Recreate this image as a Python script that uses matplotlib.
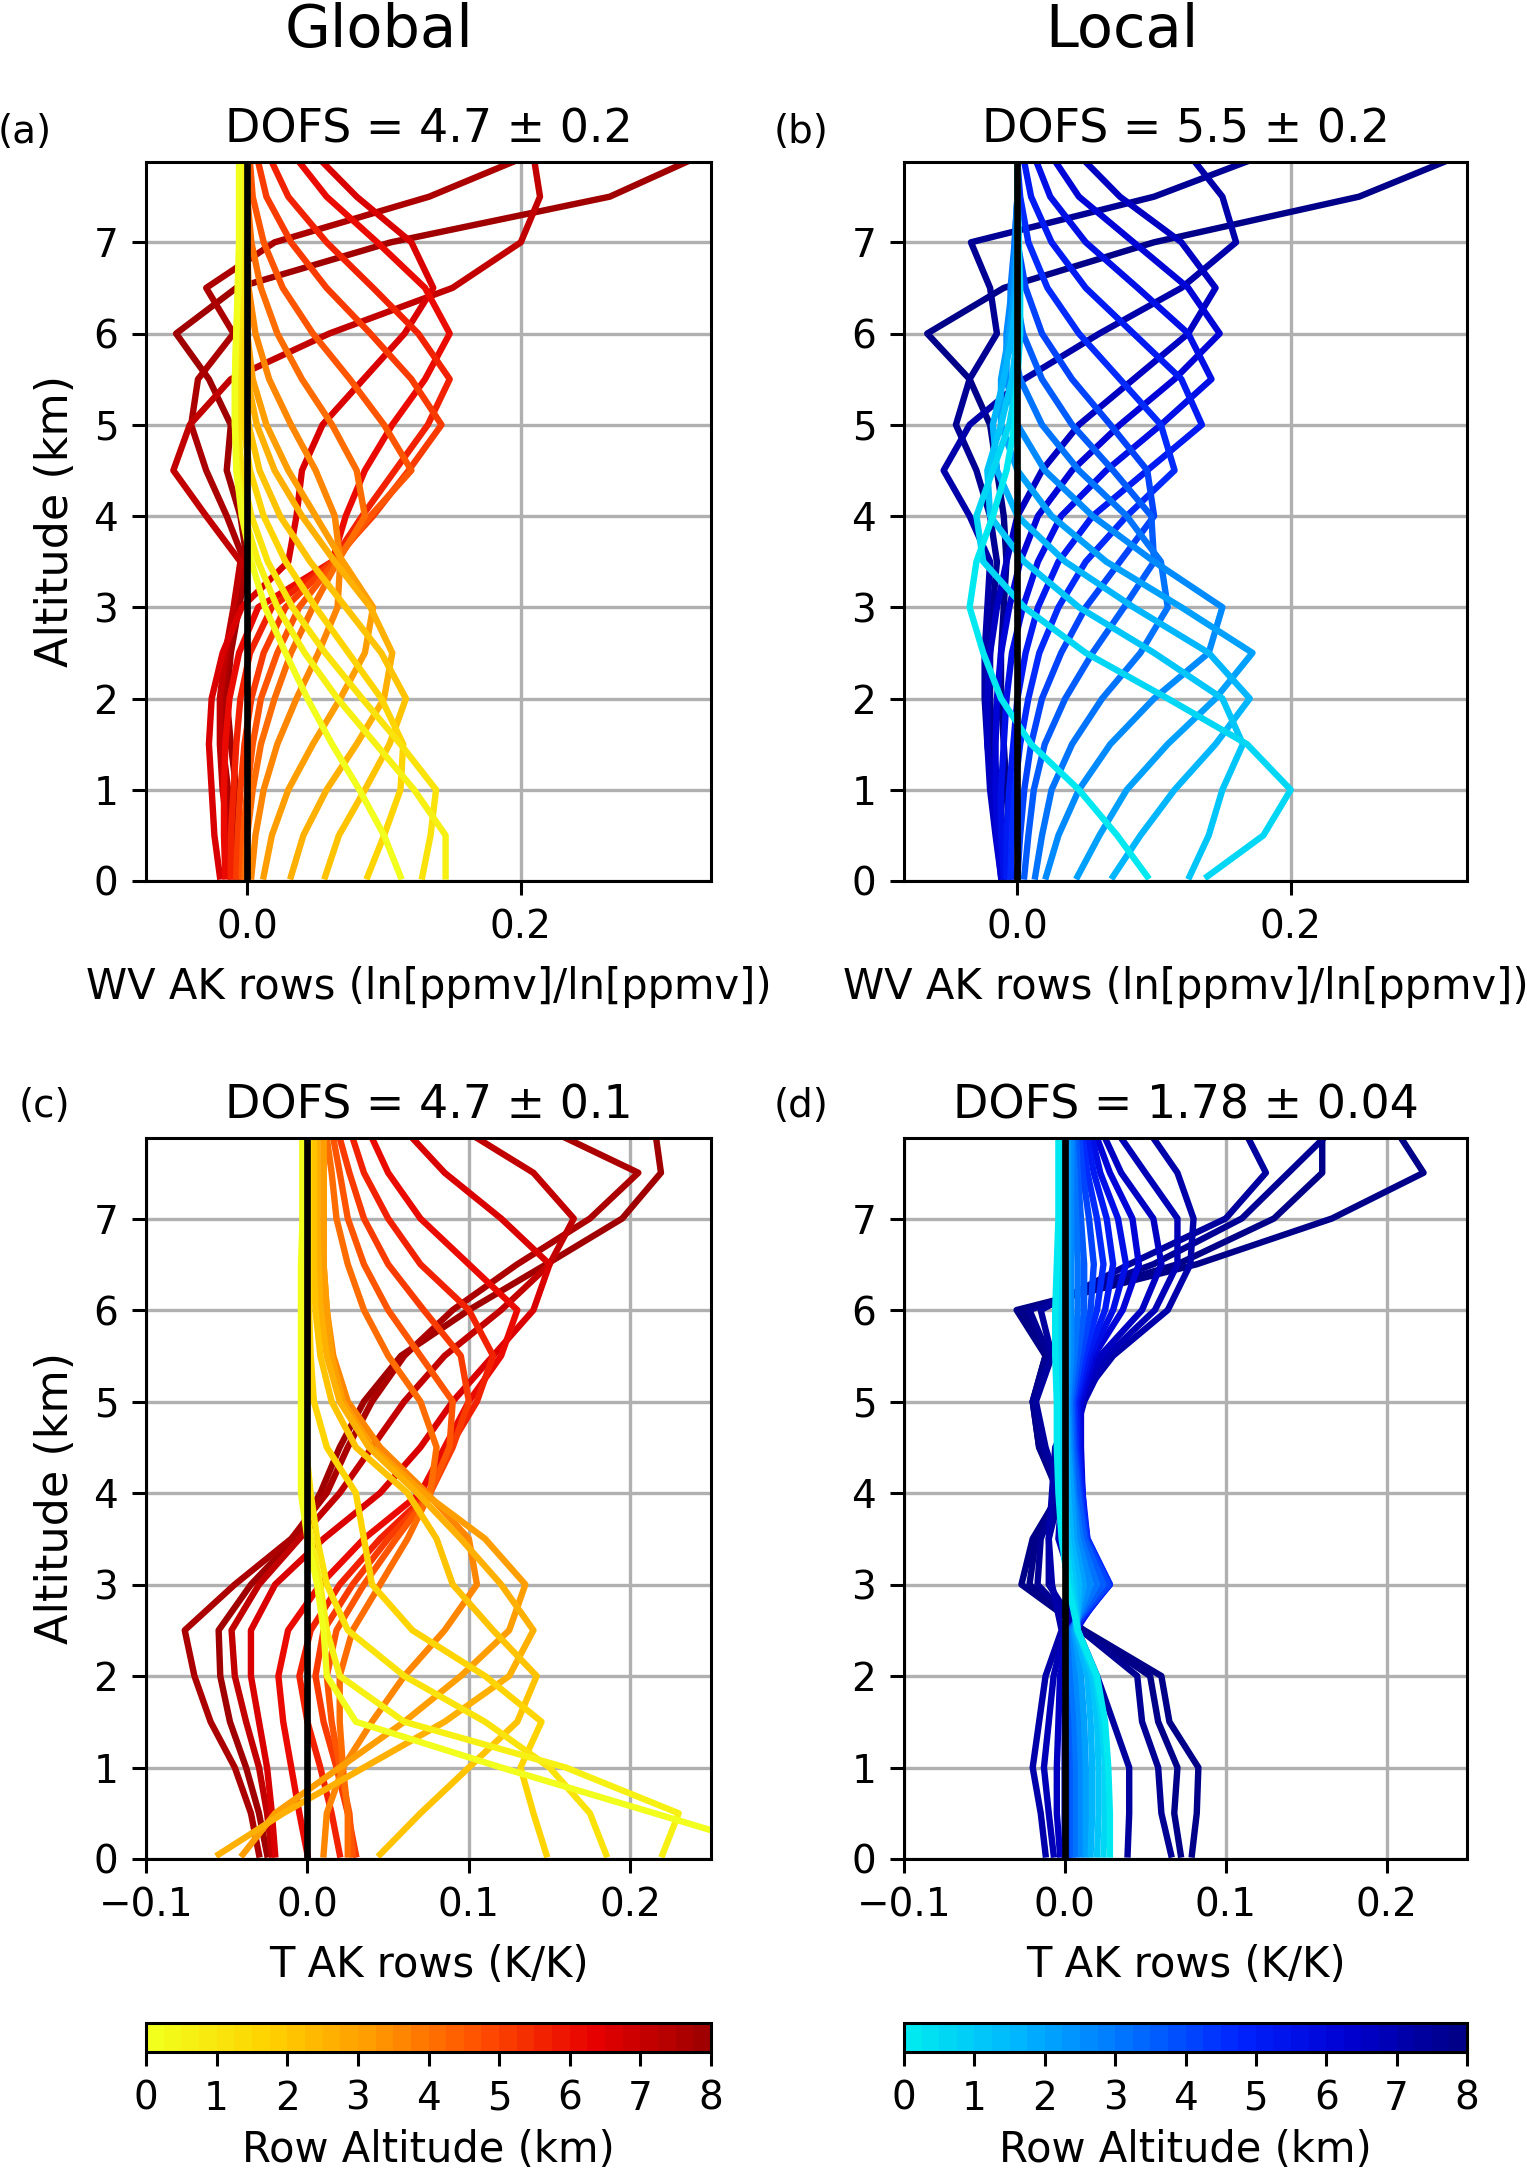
import matplotlib
matplotlib.use("Agg")
import matplotlib.pyplot as plt
from matplotlib.colors import LinearSegmentedColormap, Normalize
from matplotlib.cm import ScalarMappable

fs = 14  # tick font size
lfs = 15  # axis label font size

# retrieval levels (km) shared by every AK row
levels = [0.05, 0.5, 1.0, 1.5, 2.0, 2.5, 3.0, 3.5, 4.0, 4.5, 5.0, 5.5, 6.0, 6.5, 7.0, 7.5, 7.88]

# row altitudes (km)
rows = [0.05, 0.5, 1.0, 1.5, 2.0, 2.5, 3.0, 3.5, 4.0, 4.5, 5.0, 5.5, 6.0, 6.5, 7.0, 7.5, 7.88]
rows_d = [0.05, 0.5, 1.0, 1.5, 2.0, 2.5, 3.0, 3.5, 4.0, 4.5, 5.0, 5.5, 6.0,
          6.5, 6.75, 7.0, 7.25, 7.5, 7.75, 7.88]

# (a) global WV AK rows, one list per row altitude
wv_global = [
    [0.112, 0.100, 0.082, 0.062, 0.044, 0.028, 0.013, 0.003, -0.004, -0.008, -0.009, -0.009, -0.008, -0.007, -0.006, -0.006, -0.006],
    [0.145, 0.145, 0.122, 0.094, 0.066, 0.042, 0.022, 0.008, -0.002, -0.007, -0.009, -0.009, -0.008, -0.006, -0.005, -0.004, -0.004],
    [0.128, 0.134, 0.138, 0.112, 0.084, 0.057, 0.033, 0.015, 0.003, -0.004, -0.007, -0.007, -0.006, -0.004, -0.003, -0.002, -0.002],
    [0.088, 0.100, 0.112, 0.114, 0.098, 0.074, 0.050, 0.028, 0.012, 0.002, -0.003, -0.004, -0.004, -0.003, -0.002, -0.001, -0.001],
    [0.057, 0.067, 0.086, 0.104, 0.116, 0.098, 0.072, 0.046, 0.024, 0.009, 0.001, -0.002, -0.003, -0.002, -0.001, 0.000, 0.000],
    [0.032, 0.041, 0.058, 0.080, 0.100, 0.106, 0.090, 0.064, 0.040, 0.020, 0.007, 0.000, -0.002, -0.002, -0.001, 0.000, 0.000],
    [0.012, 0.018, 0.030, 0.048, 0.068, 0.086, 0.092, 0.070, 0.050, 0.030, 0.014, 0.004, 0.000, -0.001, -0.001, 0.000, 0.000],
    [0.003, 0.006, 0.012, 0.022, 0.036, 0.052, 0.066, 0.068, 0.064, 0.050, 0.032, 0.016, 0.006, 0.001, 0.000, 0.000, 0.000],
    [-0.002, 0.000, 0.004, 0.010, 0.020, 0.032, 0.048, 0.066, 0.086, 0.080, 0.062, 0.040, 0.022, 0.010, 0.003, 0.000, 0.000],
    [-0.004, -0.003, 0.000, 0.004, 0.010, 0.022, 0.038, 0.064, 0.090, 0.120, 0.100, 0.075, 0.048, 0.026, 0.012, 0.004, 0.002],
    [-0.008, -0.007, -0.005, -0.002, 0.003, 0.012, 0.028, 0.062, 0.092, 0.118, 0.142, 0.120, 0.090, 0.058, 0.032, 0.014, 0.008],
    [-0.012, -0.012, -0.010, -0.008, -0.005, 0.002, 0.018, 0.062, 0.084, 0.108, 0.132, 0.148, 0.125, 0.092, 0.058, 0.030, 0.018],
    [-0.016, -0.017, -0.017, -0.016, -0.013, -0.006, 0.008, 0.062, 0.072, 0.086, 0.106, 0.130, 0.148, 0.130, 0.095, 0.058, 0.038],
    [-0.020, -0.024, -0.026, -0.028, -0.026, -0.018, -0.004, 0.030, 0.036, 0.040, 0.055, 0.085, 0.115, 0.136, 0.120, 0.080, 0.055],
    [-0.012, -0.014, -0.018, -0.020, -0.020, -0.016, -0.010, -0.005, -0.030, -0.054, -0.042, -0.012, 0.060, 0.150, 0.200, 0.214, 0.210],
    [-0.008, -0.010, -0.014, -0.018, -0.018, -0.014, -0.008, -0.002, -0.015, -0.030, -0.041, -0.036, -0.010, -0.030, 0.020, 0.133, 0.194],
    [-0.005, -0.006, -0.008, -0.012, -0.015, -0.012, -0.006, 0.000, -0.005, -0.015, -0.012, -0.028, -0.052, -0.008, 0.105, 0.265, 0.321],
]

# (b) local WV AK rows
wv_local = [
    [0.095, 0.073, 0.045, 0.010, -0.012, -0.025, -0.035, -0.030, -0.018, -0.008, -0.002, 0.000, 0.000, 0.000, 0.000, 0.000, 0.000],
    [0.139, 0.180, 0.200, 0.168, 0.110, 0.050, 0.005, -0.025, -0.030, -0.018, -0.006, 0.000, 0.002, 0.002, 0.001, 0.000, 0.000],
    [0.126, 0.140, 0.150, 0.165, 0.150, 0.100, 0.045, 0.005, -0.020, -0.022, -0.012, -0.004, 0.000, 0.001, 0.001, 0.000, 0.000],
    [0.070, 0.090, 0.115, 0.145, 0.170, 0.140, 0.085, 0.035, 0.000, -0.015, -0.018, -0.010, -0.004, 0.000, 0.000, 0.000, 0.000],
    [0.044, 0.060, 0.080, 0.110, 0.145, 0.172, 0.120, 0.065, 0.025, 0.000, -0.012, -0.012, -0.006, -0.002, 0.000, 0.000, 0.000],
    [0.021, 0.030, 0.045, 0.068, 0.100, 0.140, 0.150, 0.100, 0.055, 0.020, 0.000, -0.008, -0.008, -0.004, -0.001, 0.000, 0.000],
    [0.013, 0.018, 0.025, 0.040, 0.062, 0.090, 0.110, 0.105, 0.080, 0.045, 0.018, 0.002, -0.005, -0.005, -0.002, 0.000, 0.000],
    [0.005, 0.008, 0.012, 0.020, 0.035, 0.055, 0.078, 0.100, 0.098, 0.070, 0.040, 0.018, 0.004, -0.002, -0.002, 0.000, 0.000],
    [0.000, 0.002, 0.005, 0.010, 0.018, 0.032, 0.050, 0.075, 0.100, 0.095, 0.068, 0.040, 0.018, 0.006, 0.000, 0.000, 0.000],
    [-0.005, -0.004, -0.002, 0.002, 0.008, 0.016, 0.030, 0.050, 0.080, 0.115, 0.105, 0.075, 0.045, 0.022, 0.008, 0.002, 0.000],
    [-0.008, -0.008, -0.006, -0.003, 0.000, 0.006, 0.015, 0.030, 0.055, 0.095, 0.135, 0.120, 0.085, 0.050, 0.025, 0.010, 0.005],
    [-0.010, -0.012, -0.012, -0.010, -0.008, -0.004, 0.004, 0.015, 0.032, 0.065, 0.105, 0.142, 0.125, 0.088, 0.050, 0.024, 0.014],
    [-0.012, -0.015, -0.016, -0.016, -0.015, -0.012, -0.006, 0.002, 0.015, 0.040, 0.075, 0.115, 0.148, 0.125, 0.085, 0.045, 0.028],
    [-0.012, -0.016, -0.020, -0.022, -0.022, -0.020, -0.015, -0.008, 0.000, 0.018, 0.045, 0.085, 0.125, 0.145, 0.120, 0.075, 0.050],
    [-0.010, -0.014, -0.018, -0.022, -0.024, -0.024, -0.022, -0.020, -0.035, -0.054, -0.035, 0.005, 0.060, 0.120, 0.160, 0.150, 0.130],
    [-0.008, -0.010, -0.014, -0.018, -0.020, -0.020, -0.018, -0.015, -0.020, -0.030, -0.045, -0.035, -0.015, -0.020, -0.034, 0.100, 0.167],
    [-0.004, -0.006, -0.008, -0.010, -0.012, -0.012, -0.010, -0.008, -0.010, -0.015, -0.020, -0.035, -0.066, -0.010, 0.100, 0.250, 0.312],
]

# (c) global T AK rows
t_global = [
    [0.300, 0.215, 0.120, 0.030, 0.012, 0.010, 0.006, 0.000, -0.004, -0.004, -0.004, -0.004, -0.004, -0.004, -0.003, -0.003, -0.003],
    [0.220, 0.230, 0.160, 0.060, 0.020, 0.012, 0.008, 0.002, -0.002, -0.003, -0.003, -0.003, -0.003, -0.003, -0.003, -0.003, -0.003],
    [0.185, 0.175, 0.150, 0.110, 0.060, 0.025, 0.012, 0.006, 0.002, -0.001, -0.002, -0.002, -0.002, -0.002, -0.002, -0.002, -0.002],
    [0.148, 0.140, 0.132, 0.145, 0.110, 0.065, 0.040, 0.035, 0.030, 0.012, 0.004, 0.002, 0.001, 0.001, 0.001, 0.001, 0.001],
    [0.045, 0.070, 0.100, 0.130, 0.142, 0.115, 0.090, 0.080, 0.062, 0.030, 0.015, 0.008, 0.005, 0.004, 0.004, 0.004, 0.004],
    [-0.055, -0.015, 0.035, 0.085, 0.125, 0.140, 0.120, 0.095, 0.068, 0.038, 0.020, 0.012, 0.008, 0.007, 0.006, 0.006, 0.006],
    [-0.040, -0.020, 0.020, 0.060, 0.095, 0.125, 0.135, 0.110, 0.072, 0.040, 0.022, 0.015, 0.012, 0.010, 0.010, 0.010, 0.010],
    [0.010, 0.012, 0.022, 0.040, 0.060, 0.085, 0.105, 0.100, 0.074, 0.045, 0.025, 0.016, 0.012, 0.010, 0.010, 0.010, 0.010],
    [0.025, 0.025, 0.022, 0.020, 0.020, 0.028, 0.045, 0.062, 0.076, 0.080, 0.070, 0.050, 0.035, 0.025, 0.018, 0.015, 0.012],
    [0.028, 0.026, 0.020, 0.015, 0.012, 0.018, 0.035, 0.055, 0.076, 0.088, 0.090, 0.070, 0.050, 0.035, 0.025, 0.020, 0.016],
    [0.030, 0.025, 0.018, 0.010, 0.005, 0.010, 0.028, 0.050, 0.076, 0.090, 0.100, 0.095, 0.072, 0.050, 0.035, 0.026, 0.020],
    [0.020, 0.015, 0.008, 0.000, -0.005, 0.002, 0.020, 0.045, 0.075, 0.088, 0.105, 0.115, 0.100, 0.070, 0.050, 0.035, 0.028],
    [0.000, -0.005, -0.010, -0.015, -0.018, -0.012, 0.008, 0.035, 0.070, 0.085, 0.100, 0.120, 0.130, 0.100, 0.070, 0.050, 0.040],
    [-0.020, -0.022, -0.025, -0.030, -0.035, -0.035, -0.020, 0.010, 0.045, 0.070, 0.090, 0.115, 0.140, 0.150, 0.120, 0.085, 0.065],
    [-0.022, -0.025, -0.030, -0.038, -0.045, -0.047, -0.030, -0.005, 0.020, 0.040, 0.060, 0.085, 0.120, 0.150, 0.165, 0.140, 0.105],
    [-0.030, -0.035, -0.045, -0.060, -0.070, -0.076, -0.045, -0.010, 0.012, 0.025, 0.040, 0.060, 0.090, 0.130, 0.175, 0.205, 0.160],
    [-0.025, -0.030, -0.038, -0.048, -0.054, -0.055, -0.035, -0.008, 0.008, 0.020, 0.035, 0.058, 0.100, 0.148, 0.195, 0.219, 0.216],
]

# (d) local T AK rows (finer rows near the top)
t_local = [
    [0.028, 0.028, 0.027, 0.025, 0.020, 0.008, 0.002, -0.002, -0.004, -0.005, -0.005, -0.006, -0.006, -0.005, -0.004, -0.004, -0.004],
    [0.024, 0.025, 0.025, 0.023, 0.019, 0.008, 0.004, 0.000, -0.002, -0.003, -0.003, -0.004, -0.004, -0.003, -0.003, -0.003, -0.003],
    [0.020, 0.021, 0.021, 0.020, 0.017, 0.008, 0.006, 0.002, 0.000, -0.001, -0.001, -0.002, -0.002, -0.002, -0.001, -0.001, -0.001],
    [0.016, 0.017, 0.017, 0.016, 0.014, 0.007, 0.009, 0.004, 0.002, 0.001, 0.000, 0.000, 0.000, 0.000, 0.000, 0.000, 0.000],
    [0.013, 0.013, 0.013, 0.012, 0.010, 0.006, 0.012, 0.006, 0.004, 0.002, 0.001, 0.002, 0.002, 0.002, 0.002, 0.002, 0.002],
    [0.010, 0.010, 0.010, 0.009, 0.007, 0.005, 0.016, 0.008, 0.005, 0.003, 0.002, 0.004, 0.004, 0.004, 0.004, 0.004, 0.004],
    [0.007, 0.007, 0.007, 0.006, 0.004, 0.004, 0.020, 0.010, 0.006, 0.004, 0.003, 0.006, 0.008, 0.008, 0.007, 0.006, 0.005],
    [0.005, 0.005, 0.005, 0.004, 0.003, 0.003, 0.024, 0.012, 0.008, 0.005, 0.004, 0.008, 0.012, 0.012, 0.010, 0.008, 0.007],
    [0.003, 0.003, 0.003, 0.002, 0.002, 0.003, 0.027, 0.013, 0.009, 0.006, 0.005, 0.010, 0.016, 0.018, 0.015, 0.011, 0.009],
    [0.002, 0.002, 0.002, 0.001, 0.001, 0.004, 0.028, 0.014, 0.010, 0.007, 0.006, 0.012, 0.020, 0.024, 0.020, 0.014, 0.011],
    [0.001, 0.001, 0.001, 0.001, 0.001, 0.005, 0.028, 0.014, 0.011, 0.008, 0.007, 0.014, 0.025, 0.030, 0.026, 0.018, 0.014],
    [0.000, 0.000, 0.000, 0.000, 0.001, 0.006, 0.027, 0.013, 0.011, 0.009, 0.008, 0.016, 0.030, 0.038, 0.033, 0.022, 0.017],
    [0.000, 0.000, 0.000, 0.000, 0.001, 0.007, 0.025, 0.012, 0.011, 0.010, 0.010, 0.018, 0.036, 0.046, 0.042, 0.028, 0.020],
    [-0.003, -0.005, -0.005, -0.004, -0.003, 0.003, 0.015, 0.005, 0.004, 0.006, 0.010, 0.022, 0.048, 0.060, 0.055, 0.035, 0.025],
    [-0.007, -0.010, -0.013, -0.010, -0.007, 0.000, 0.005, -0.004, -0.002, 0.004, 0.012, 0.026, 0.056, 0.070, 0.070, 0.050, 0.035],
    [-0.012, -0.015, -0.020, -0.016, -0.012, -0.002, -0.008, -0.010, -0.008, -0.006, 0.008, 0.030, 0.064, 0.078, 0.080, 0.070, 0.055],
    [0.039, 0.040, 0.040, 0.030, 0.020, 0.008, -0.010, -0.010, -0.003, -0.012, -0.018, -0.008, -0.015, 0.040, 0.100, 0.125, 0.114],
    [0.066, 0.060, 0.058, 0.048, 0.045, 0.010, -0.017, -0.015, -0.004, -0.014, -0.020, -0.010, -0.022, 0.055, 0.110, 0.139, 0.161],
    [0.072, 0.068, 0.070, 0.058, 0.053, 0.011, -0.022, -0.018, -0.004, -0.016, -0.020, -0.012, -0.026, 0.070, 0.130, 0.160, 0.160],
    [0.079, 0.082, 0.083, 0.065, 0.060, 0.012, -0.027, -0.020, -0.003, -0.016, -0.020, -0.012, -0.030, 0.082, 0.166, 0.223, 0.209],
]

dofs = ["DOFS = 4.7 ± 0.2", "DOFS = 5.5 ± 0.2", "DOFS = 4.7 ± 0.1", "DOFS = 1.78 ± 0.04"]
tags = ["(a)", "(b)", "(c)", "(d)"]
xlabels = ["WV AK rows (ln[ppmv]/ln[ppmv])", "WV AK rows (ln[ppmv]/ln[ppmv])",
           "T AK rows (K/K)", "T AK rows (K/K)"]

warm = LinearSegmentedColormap.from_list(
    "warm", ["#f2ff1c", "#ffd400", "#ff9a00", "#ff4c00", "#e80000", "#a00000"]).resampled(32)
cool = LinearSegmentedColormap.from_list(
    "cool", ["#00e8f0", "#00b4ff", "#0070ff", "#0022ff", "#0000d0", "#000088"]).resampled(32)
norm = Normalize(0, 8)

W, H = 1527, 2176
fig = plt.figure(figsize=(W / 200, H / 200), dpi=200)

def frac(l, t, r, b):
    return [l / W, 1 - b / H, (r - l) / W, (b - t) / H]

rects = [frac(146, 162, 711, 881), frac(904, 162, 1467, 881),
         frac(146, 1138, 711, 1859), frac(904, 1138, 1467, 1859)]
data = [(wv_global, rows, warm), (wv_local, rows, cool),
        (t_global, rows, warm), (t_local, rows_d, cool)]
xlims = [(-0.074, 0.339), (-0.083, 0.329), (-0.1, 0.25), (-0.1, 0.25)]
xticks = [[0.0, 0.2], [0.0, 0.2], [-0.1, 0.0, 0.1, 0.2], [-0.1, 0.0, 0.1, 0.2]]
tag_pos = [(25, 132), (801, 132), (44, 1106), (801, 1106)]

for i in range(4):
    ax = fig.add_axes(rects[i])
    mat, rz, cmap = data[i]
    # dark (high) rows first so the low rows sit on top
    for z, vals in reversed(list(zip(rz, mat))):
        ax.plot(vals, levels, color=cmap(norm(z)), lw=2.3)
    ax.axvline(0, color="k", lw=2.4, zorder=5)
    ax.set_xlim(*xlims[i])
    ax.set_ylim(0, 7.88)
    ax.set_xticks(xticks[i])
    ax.set_yticks(range(8))
    ax.grid(color="#b0b0b0", lw=1.2)
    ax.set_axisbelow(True)
    ax.tick_params(labelsize=fs, width=1.1, length=5, pad=5)
    for sp in ax.spines.values():
        sp.set_linewidth(1.1)
    ax.set_title(dofs[i], fontsize=16.5, pad=7)
    ax.set_xlabel(xlabels[i], fontsize=lfs, labelpad=7)
    if i % 2 == 0:
        ax.set_ylabel("Altitude (km)", fontsize=lfs + 1, labelpad=6)
    fig.text(tag_pos[i][0] / W, 1 - tag_pos[i][1] / H, tags[i],
             ha="center", va="center", fontsize=fs)

fig.text(379 / W, 1 - 31 / H, "Global", ha="center", va="center", fontsize=21.3)
fig.text(1122 / W, 1 - 31 / H, "Local", ha="center", va="center", fontsize=21.3)

for l, r, cmap in [(146, 711, warm), (904, 1467, cool)]:
    cax = fig.add_axes(frac(l, 2023, r, 2052))
    cb = fig.colorbar(ScalarMappable(norm=norm, cmap=cmap), cax=cax,
                      orientation="horizontal", ticks=range(9))
    cb.outline.set_linewidth(1.1)
    cb.ax.tick_params(labelsize=fs, width=1.1, length=5, pad=5)
    cb.set_label("Row Altitude (km)", fontsize=lfs, labelpad=4)

fig.savefig("out.png", dpi=200)
